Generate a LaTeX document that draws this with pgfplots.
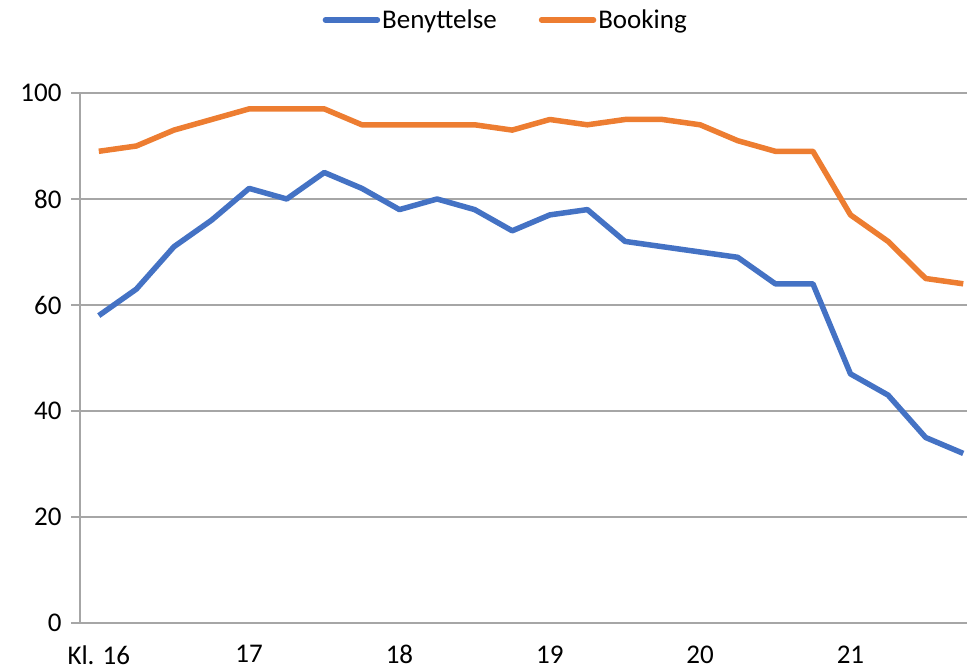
\documentclass[border=0pt]{standalone}
\usepackage{pgfplots}
\pgfplotsset{compat=1.18}
\usepackage{fontspec}
\setmainfont{Carlito}
\definecolor{cblue}{HTML}{4472C4}
\definecolor{corange}{HTML}{ED7D31}
\definecolor{cgrid}{HTML}{A6A6A6}
\begin{document}
\begin{tikzpicture}[x=1pt,y=1pt]
\path[use as bounding box] (0,0) rectangle (967,670);
\begin{axis}[
  at={(80pt,47pt)}, anchor=south west,
  scale only axis, width=887pt, height=530pt,
  xmin=-0.5, xmax=23.1, ymin=0, ymax=100,
  ytick={0,20,...,100},
  xtick={0,4,8,12,16,20},
  xticklabels={Kl. 16,17,18,19,20,21},
  axis x line*=bottom, axis y line*=left,
  axis line style={draw=cgrid, line width=1.3pt, -},
  ymajorgrids, grid style={draw=cgrid, line width=1.3pt},
  tick align=outside, major tick length=9pt,
  ytick style={draw=cgrid, line width=1.3pt},
  xtick style={draw=none},
  /pgf/number format/assume math mode=true,
  tick label style={font=\fontsize{27}{30}\selectfont, text=black},
  yticklabel style={xshift=-6pt},
  xticklabel style={yshift=-10pt},
  clip=false,
  legend style={at={(0.48,1.138)}, anchor=center, draw=none, fill=none,
    legend columns=2, font=\fontsize{27}{30}\selectfont,
    /tikz/every even column/.append style={column sep=40pt}},
  legend image code/.code={\draw[#1, line width=5.5pt, line cap=round] (0pt,0pt) -- (52pt,0pt);},
]
\addplot[cblue, line width=5.5pt, line join=round] coordinates {
(0,58) (1,63) (2,71) (3,76) (4,82) (5,80) (6,85) (7,82) (8,78) (9,80) (10,78) (11,74)
(12,77) (13,78) (14,72) (15,71) (16,70) (17,69) (18,64) (19,64) (20,47) (21,43) (22,35) (23,32)};
\addlegendentry{Benyttelse}
\addplot[corange, line width=5.5pt, line join=round] coordinates {
(0,89) (1,90) (2,93) (3,95) (4,97) (5,97) (6,97) (7,94) (8,94) (9,94) (10,94) (11,93)
(12,95) (13,94) (14,95) (15,95) (16,94) (17,91) (18,89) (19,89) (20,77) (21,72) (22,65) (23,64)};
\addlegendentry{Booking}
\end{axis}
\end{tikzpicture}
\end{document}
